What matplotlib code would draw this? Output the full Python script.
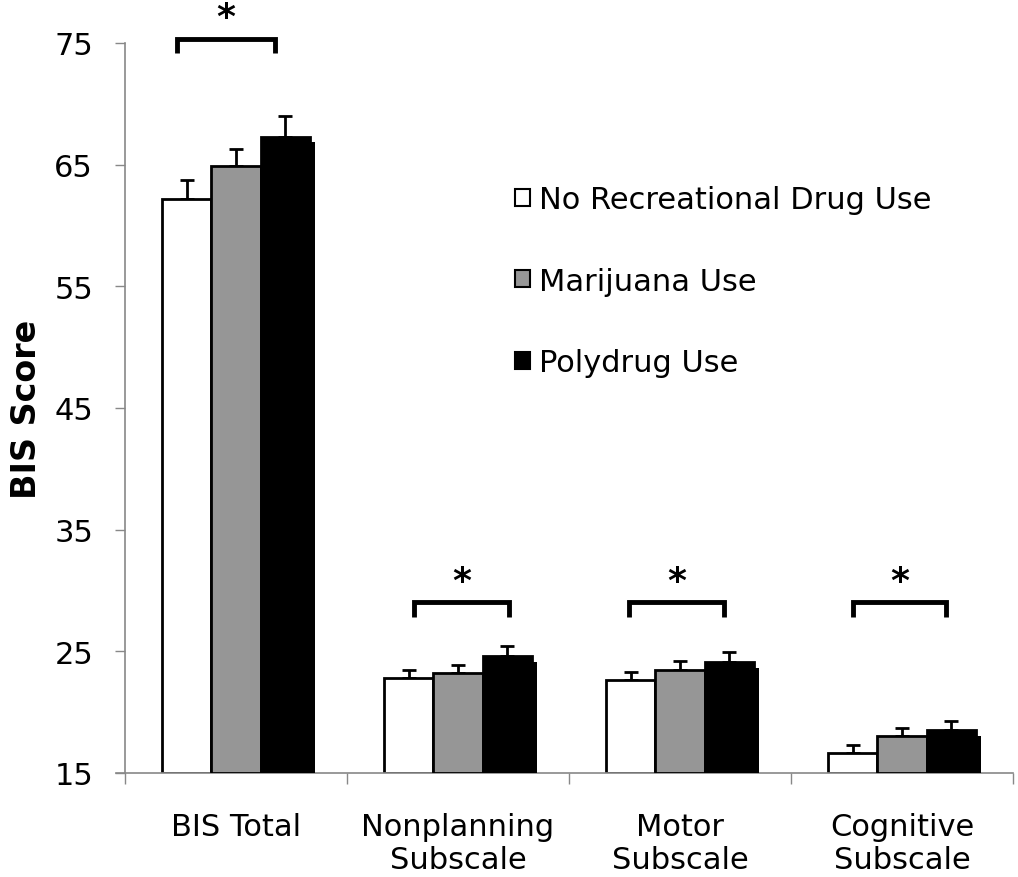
import matplotlib
matplotlib.use("Agg")
import matplotlib.pyplot as plt
import matplotlib.patheffects as pe
from matplotlib.patches import Patch
import numpy as np

plt.rcParams['font.family'] = ['DejaVu Sans']

categories = ["BIS Total", "Nonplanning\nSubscale", "Motor\nSubscale", "Cognitive\nSubscale"]
groups = ["No Recreational Drug Use", "Marijuana Use", "Polydrug Use"]
no_drug = [62.2, 22.8, 22.6, 16.6]
marijuana = [64.9, 23.2, 23.5, 18.0]
polydrug = [67.3, 24.6, 24.1, 18.5]
no_drug_err = [1.5, 0.7, 0.7, 0.7]
marijuana_err = [1.4, 0.7, 0.7, 0.7]
polydrug_err = [1.7, 0.8, 0.8, 0.8]
yticks = [15, 25, 35, 45, 55, 65, 75]

colors = ["white", "#969696", "black"]
values = [no_drug, marijuana, polydrug]
errs = [no_drug_err, marijuana_err, polydrug_err]

fig = plt.figure(figsize=(10.18, 8.78), dpi=100)
ax = fig.add_axes([0.1228, 0.1185, 0.8722, 0.8315])

x = np.arange(len(categories))
w = 0.222
shadow = [pe.SimplePatchShadow(offset=(4, -4), shadow_rgbFace='black', alpha=1.0), pe.Normal()]
for i, (vals, err, col) in enumerate(zip(values, errs, colors)):
    pos = x + (i - 1) * w
    bars = ax.bar(pos, np.array(vals) - 15, width=w, bottom=15, color=col,
                  edgecolor='black', linewidth=2, zorder=2 + i, label=groups[i])
    for b in bars:
        b.set_path_effects(shadow)
    ax.errorbar(pos, vals, yerr=[np.zeros(len(vals)), err], fmt='none',
                ecolor='black', elinewidth=2, capsize=5, capthick=2, zorder=1.5 + i)

# significance brackets
brackets = [(-0.265, 0.175, 75.33, 74.2, 77.1),
            (-0.20, 0.23, 29.05, 27.8, 30.8),
            (-0.23, 0.20, 29.05, 27.8, 30.8),
            (-0.22, 0.20, 29.05, 27.8, 30.8)]
for xi, (l, r, top, bot, st) in zip(x, brackets):
    ax.plot([xi + l, xi + l, xi + r, xi + r], [bot, top, top, bot], color='black',
            lw=3.5, solid_joinstyle='miter', solid_capstyle='butt', clip_on=False, zorder=10)
    ax.text(xi + (l + r) / 2, st, "*", ha='center', va='center', fontsize=26,
            fontweight='bold', clip_on=False)

ax.set_xlim(-0.5, 3.5)
ax.set_ylim(15, 75)
ax.set_yticks(yticks)
ax.tick_params(axis='y', direction='out', length=7, width=1, color='#888888',
               labelsize=22, pad=16)
ax.set_xticks([-0.5, 0.5, 1.5, 2.5, 3.5])
ax.set_xticklabels([])
ax.set_xticks(x, minor=True)
ax.set_xticklabels(categories, minor=True, fontsize=22, linespacing=1.2)
ax.tick_params(axis='x', which='major', direction='out', length=8, width=1, color='#888888')
ax.tick_params(axis='x', which='minor', length=0, pad=28)

for s in ['top', 'right']:
    ax.spines[s].set_visible(False)
for s in ['left', 'bottom']:
    ax.spines[s].set_color('#888888')
    ax.spines[s].set_linewidth(1.2)
ax.spines['bottom'].set_bounds(-0.54, 3.5)

ax.set_ylabel("BIS Score", fontsize=24, fontweight='bold', labelpad=8)

handles = [Patch(facecolor=c, edgecolor='black', linewidth=1.5) for c in colors]
leg = ax.legend(handles, groups, loc='upper left', bbox_to_anchor=(0.425, 0.822),
                frameon=False, fontsize=22, handlelength=0.5, handleheight=0.5,
                handletextpad=0.3, labelspacing=1.72, borderaxespad=0)

fig.savefig("out.png", dpi=100)
